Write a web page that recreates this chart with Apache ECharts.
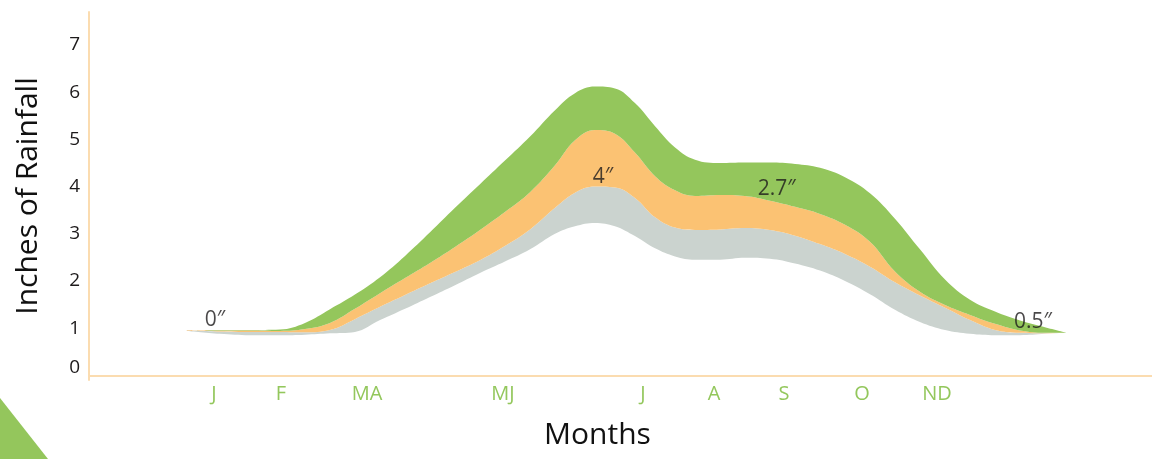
<!DOCTYPE html>
<html>
<head>
<meta charset="utf-8">
<script src="https://cdn.jsdelivr.net/npm/echarts@6/dist/echarts.min.js"></script>
<style>
  html, body { margin: 0; padding: 0; background: #fff; }
  #chart { width: 1152px; height: 459px; }
</style>
</head>
<body>
<div id="chart"></div>
<script>
// Position along the year (axis units) of each sampled point
const xPos = [9.2, 12.3, 15.15, 17.97, 20.32, 22.67, 25.02, 27.38, 29.73, 32.08, 34.43, 36.78, 39.13,
  41.49, 43.84, 45.72, 47.6, 49.48, 51.36, 53.25, 55.13, 57.01, 59.36, 61.71, 64.06, 66.42, 68.77,
  71.12, 73.47, 75.82, 78.17, 80.53, 82.88, 85.23, 87.58, 89.93, 92.0];
// Band boundaries in inches of rainfall
const bandBottom = [0.94, 0.88, 0.85, 0.85, 0.86, 0.89, 0.92, 1.17, 1.41, 1.66, 1.91, 2.17, 2.41,
  2.67, 3.00, 3.16, 3.23, 3.16, 2.95, 2.69, 2.52, 2.45, 2.45, 2.49, 2.47, 2.37, 2.22,
  2.00, 1.72, 1.39, 1.13, 0.96, 0.88, 0.85, 0.85, 0.88, 0.90];
const grayTop = [0.95, 0.93, 0.92, 0.92, 0.91, 0.96, 1.19, 1.45, 1.70, 1.95, 2.19, 2.44, 2.74,
  3.09, 3.55, 3.87, 4.0, 3.98, 3.76, 3.35, 3.13, 3.08, 3.09, 3.12, 3.08, 2.96, 2.78,
  2.57, 2.30, 1.97, 1.69, 1.43, 1.17, 0.96, 0.90, 0.89, 0.90];
const orangeTop = [0.96, 0.95, 0.95, 0.94, 0.98, 1.11, 1.41, 1.74, 2.06, 2.38, 2.72, 3.08, 3.46,
  3.88, 4.45, 4.98, 5.20, 5.12, 4.72, 4.22, 3.92, 3.80, 3.82, 3.80, 3.70, 3.57, 3.42,
  3.19, 2.83, 2.20, 1.77, 1.49, 1.28, 1.09, 0.95, 0.90, 0.90];
const greenTop = [0.96, 0.96, 0.96, 0.97, 1.11, 1.40, 1.71, 2.08, 2.53, 3.03, 3.55, 4.05, 4.55,
  5.06, 5.62, 5.98, 6.12, 6.08, 5.77, 5.28, 4.83, 4.57, 4.50, 4.51, 4.51, 4.48, 4.40,
  4.20, 3.86, 3.32, 2.67, 2.03, 1.60, 1.35, 1.16, 1.02, 0.90];

// Month labels and where they sit on the x axis
const monthLabels = ['J', 'F', 'MA', 'MJ', 'J', 'A', 'S', 'O', 'ND'];
const monthPos = [11.76, 18.06, 26.15, 38.95, 52.12, 58.8, 65.38, 72.72, 79.77];
const yTicks = [0, 1, 2, 3, 4, 5, 6, 7];

// Annotations
const noteText = ['0″', '4″', '2.7″', '0.5″'];
const noteX = [11.85, 48.35, 64.7, 88.8];
const noteY = [1.17, 4.20, 3.95, 1.13];

const GREEN = '#94c65c';
const ORANGE = '#fbc273';
const GRAY = '#cbd3cf';
const AXIS = '#fbdcb0';
const FONT = 'Open Sans';

const diff = (a, b) => a.map((v, i) => +(v - b[i]).toFixed(3));
// value first, so the stack accumulates along the rainfall dimension
const rows = ys => xPos.map((x, i) => [ys[i], x]);

function band(name, values, color) {
  return {
    name, type: 'line', stack: 'rain', smooth: 0.4, symbol: 'none', silent: true,
    data: rows(values),
    encode: { x: 1, y: 0 },
    lineStyle: { width: 0, opacity: 0 },
    areaStyle: color ? { color, opacity: 1 } : undefined,
    z: 2
  };
}

const chart = echarts.init(document.getElementById('chart'), null, { renderer: 'canvas' });
chart.setOption({
  animation: false,
  backgroundColor: '#ffffff',
  grid: { left: 89, right: 0, top: 12, bottom: 79, containLabel: false },
  xAxis: {
    type: 'value', min: 0, max: 100,
    name: 'Months', nameLocation: 'middle', nameGap: 40,
    nameTextStyle: { fontFamily: FONT, fontSize: 30, color: '#111', padding: [0, 46, 0, 0] },
    axisLine: { show: true, lineStyle: { color: AXIS, width: 2 } },
    axisTick: { show: false },
    splitLine: { show: false },
    axisLabel: {
      customValues: monthPos,
      margin: 4,
      fontFamily: FONT, fontSize: 20, color: '#93c75c',
      formatter: v => {
        const i = monthPos.findIndex(p => Math.abs(p - v) < 1e-6);
        return i >= 0 ? monthLabels[i] : '';
      }
    }
  },
  yAxis: {
    type: 'value', min: -0.1, max: 7.7,
    name: 'Inches of Rainfall', nameLocation: 'middle', nameGap: 46, nameRotate: 90,
    nameTextStyle: { fontFamily: FONT, fontSize: 30, color: '#111' },
    axisLine: { show: true, lineStyle: { color: AXIS, width: 2 } },
    axisTick: { show: false },
    splitLine: { show: false },
    axisLabel: {
      customValues: yTicks,
      margin: 9,
      fontFamily: FONT, fontSize: 19, color: '#1d1a1b',
      formatter: v => (v === 0 ? '{z|0}' : String(v)),
      rich: { z: { fontFamily: FONT, fontSize: 19, color: '#1d1a1b', padding: [0, 0, 16, 0] } }
    }
  },
  series: [
    band('base', bandBottom, null),
    band('gray', diff(grayTop, bandBottom), GRAY),
    band('orange', diff(orangeTop, grayTop), ORANGE),
    band('green', diff(greenTop, orangeTop), GREEN),
    {
      name: 'notes', type: 'scatter', symbolSize: 0, silent: true, z: 5,
      data: noteX.map((x, i) => [x, noteY[i], noteText[i]]),
      label: {
        show: true, position: 'inside',
        fontFamily: FONT, fontSize: 21, color: '#1d1a1b',
        formatter: p => p.value[2]
      }
    }
  ],
  graphic: [{
    type: 'polygon', silent: true,
    shape: { points: [[0, 398], [0, 459], [48, 459]] },
    style: { fill: GREEN }
  }]
});
</script>
</body>
</html>
